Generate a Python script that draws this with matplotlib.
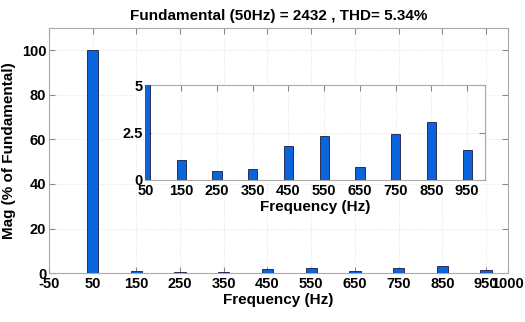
import matplotlib.pyplot as plt

plt.rcParams['font.family'] = ['Liberation Sans', 'DejaVu Sans']
plt.rcParams['font.weight'] = 'bold'
plt.rcParams['axes.unicode_minus'] = False

freqs = [50, 150, 250, 350, 450, 550, 650, 750, 850, 950]
mags = [100, 1.04, 0.46, 0.60, 1.81, 2.32, 0.70, 2.42, 3.04, 1.56]
main_ticks = [-50, 50, 150, 250, 350, 450, 550, 650, 750, 850, 950, 1000]
inset_ticks = [50, 150, 250, 350, 450, 550, 650, 750, 850, 950]

bar_color = '#0a64dc'
edge = '#1a1a40'

fig = plt.figure(figsize=(5.25, 3.22), dpi=100)
ax = fig.add_axes([0.0933, 0.152, 0.874, 0.761])
ax.bar(freqs, mags, width=26, color=bar_color, edgecolor=edge, linewidth=0.6, zorder=3)
ax.set_xlim(-50, 1000)
ax.set_ylim(0, 110)
ax.set_xticks(main_ticks)
ax.set_yticks([0, 20, 40, 60, 80, 100])
ax.tick_params(direction='in', top=True, right=True, labelsize=10.5, length=4, color='#888888', pad=2)
ax.tick_params(axis='x', pad=3)
ax.grid(True, linestyle=':', color='#dddddd', linewidth=0.6)
for s in ax.spines.values():
    s.set_color('#aaaaaa')
ax.set_xlabel('Frequency (Hz)', fontsize=11, fontweight='bold', labelpad=1)
ax.set_ylabel('Mag (% of Fundamental)', fontsize=11, fontweight='bold', labelpad=4)
ax.set_title('Fundamental (50Hz) = 2432 , THD= 5.34%', fontsize=11, fontweight='bold', pad=6)

ins = fig.add_axes([0.277, 0.441, 0.647, 0.295])
ins.bar(freqs, mags, width=26, color=bar_color, edgecolor=edge, linewidth=0.6, zorder=3)
ins.set_xlim(50, 1000)
ins.set_ylim(0, 5)
ins.set_xticks(inset_ticks)
ins.set_yticks([0, 2.5, 5])
ins.set_yticklabels(['0', '2.5', '5'])
ins.tick_params(direction='in', top=True, right=True, labelsize=10.5, length=4, color='#888888', pad=2)
ins.tick_params(axis='x', pad=3)
ins.grid(True, linestyle=':', color='#dddddd', linewidth=0.6)
for s in ins.spines.values():
    s.set_color('#aaaaaa')
ins.set_xlabel('Frequency (Hz)', fontsize=11, fontweight='bold', labelpad=1)

fig.savefig('out.png', dpi=100)
